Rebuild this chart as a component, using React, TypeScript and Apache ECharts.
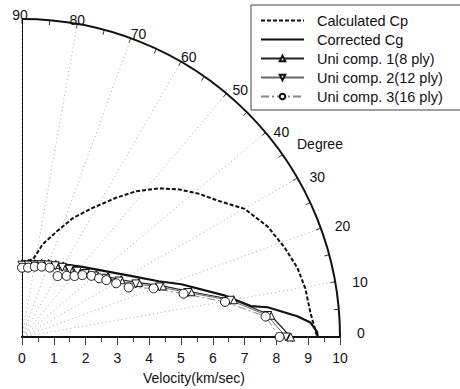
import React, { useEffect, useRef } from "react";
import * as echarts from "echarts";

const seriesNames = [
  "Calculated Cp",
  "Corrected Cg",
  "Uni comp. 1(8 ply)",
  "Uni comp. 2(12 ply)",
  "Uni comp. 3(16 ply)",
];

// Calculated Cp (angle in degree, velocity in km/sec)
const cpAngles = [90, 82, 77.4, 71.8, 66.9, 61.4, 55.9, 52, 47.4, 43.3, 39.1, 34.8, 29.9, 24.2, 18.9, 14.1, 9.7, 4.9, 2.0, 0];
const cpVel = [2.37, 2.46, 2.99, 3.49, 4.06, 4.62, 5.29, 5.81, 6.35, 6.77, 7.15, 7.51, 8.08, 8.47, 8.72, 8.93, 9.04, 9.1, 9.2, 9.28];

// Corrected Cg
const cgAngles = [90, 74.7, 49.3, 29.0, 22.2, 18.3, 11.5, 7.7, 6.9, 4.3, 2.9, 1.0, 0];
const cgVel = [2.37, 2.46, 2.91, 3.95, 4.64, 5.28, 6.52, 7.26, 7.78, 8.68, 9.08, 9.28, 9.3];

// Uni comp. 1 (8 ply)
const c1Angles = [90, 85, 80, 75, 70, 65, 60, 55, 50, 45, 40, 35, 30, 25, 20, 15, 10, 5, 0];
const c1Vel = [2.3, 2.31, 2.34, 2.4, 2.46, 2.52, 2.58, 2.64, 2.75, 2.88, 3.05, 3.3, 3.6, 4.05, 4.7, 5.5, 6.75, 7.85, 8.45];

// Uni comp. 2 (12 ply)
const c2Angles = [90, 85, 80, 75, 70, 65, 60, 55, 50, 45, 40, 35, 30, 25, 20, 15, 10, 5, 0];
const c2Vel = [2.26, 2.27, 2.3, 2.35, 2.41, 2.47, 2.53, 2.6, 2.7, 2.82, 2.98, 3.22, 3.52, 3.95, 4.6, 5.4, 6.65, 7.75, 8.3];

// Uni comp. 3 (16 ply)
const c3Angles = [90, 85, 79.7, 74.3, 68.2, 59.7, 53.9, 49.3, 45.7, 41.4, 37.3, 34, 29.7, 24.9, 20.3, 15, 9.8, 4.8, 0];
const c3Vel = [2.18, 2.19, 2.25, 2.3, 2.35, 2.22, 2.38, 2.53, 2.72, 2.91, 3.05, 3.2, 3.41, 3.7, 4.41, 5.26, 6.48, 7.69, 8.1];

const angleMin = 0;
const angleMax = 90;
const angleStep = 10;
const velMin = 0;
const velMax = 10;
const velStep = 1;

const pairs = (vel: number[], ang: number[]) => vel.map((v, i) => [v, ang[i]]);

const FONT = "Liberation Sans, Arial, sans-serif";

export default function App() {
  const ref = useRef<HTMLDivElement>(null);
  useEffect(() => {
    if (!ref.current) return;
    const chart = echarts.init(ref.current, undefined, { renderer: "svg" });
    const hollow = { color: "#fff", borderColor: "#111", borderWidth: 1 };

    const cx = 22;
    const cy = 337;
    const R = 318;

    // per-label padding [top, right, bottom, left] so the angle labels sit where the reference puts them
    const labelPad: Record<number, number[]> = {
      0: [0, 0, 8, 17],
      10: [0, 0, 0, 17],
      20: [0, 0, 2, 14],
      30: [0, 0, 0, 12],
      40: [0, 0, 0, 8],
      50: [0, 0, 4, 6],
      60: [0, 0, 8, 0],
      70: [0, 0, 6, 0],
      80: [0, 0, 6, 0],
      90: [0, 4, 6, 0],
    };
    const rich: Record<string, any> = {};
    Object.keys(labelPad).forEach((k) => {
      rich["a" + k] = {
        padding: labelPad[+k],
        lineHeight: 2,
        fontSize: 14,
        color: "#111",
        fontFamily: FONT,
      };
    });

    chart.setOption({
      animation: false,
      backgroundColor: "#fff",
      polar: { center: [cx, cy], radius: R },
      angleAxis: {
        type: "value",
        min: angleMin,
        max: angleMax,
        interval: angleStep,
        startAngle: 0,
        endAngle: 90,
        clockwise: false,
        axisLine: { lineStyle: { color: "#111", width: 2 } },
        axisTick: { show: true, inside: true, length: 5, lineStyle: { color: "#333" } },
        minorTick: { show: true, splitNumber: 2, length: 5, lineStyle: { color: "#333" } },
        axisLabel: {
          margin: 0,
          formatter: (v: number) => `{a${v}|${v}}`,
          rich,
        },
        splitLine: { show: true, lineStyle: { color: "#aaa", type: [1, 3], width: 1 } },
      },
      radiusAxis: {
        type: "value",
        min: velMin,
        max: velMax,
        interval: velStep,
        axisLine: { lineStyle: { color: "#111", width: 2 } },
        axisTick: { show: false },
        axisLabel: { show: false },
        splitLine: { show: false },
      },
      grid: { left: cx, width: R, top: cy - 40, height: 40 },
      xAxis: {
        type: "value",
        min: velMin,
        max: velMax,
        interval: velStep,
        position: "bottom",
        axisLine: { lineStyle: { color: "#111", width: 2 } },
        axisTick: { show: true, length: 8, lineStyle: { color: "#444" } },
        minorTick: { show: true, splitNumber: 2, length: 5, lineStyle: { color: "#444" } },
        axisLabel: { margin: 14, color: "#111", fontSize: 14, fontFamily: FONT },
        splitLine: { show: false },
      },
      yAxis: { type: "value", show: false, min: 0, max: 1 },
      legend: {
        data: [
          { name: seriesNames[0], itemStyle: { opacity: 0 } },
          { name: seriesNames[1], itemStyle: { opacity: 0 } },
          { name: seriesNames[2] },
          { name: seriesNames[3] },
          { name: seriesNames[4] },
        ],
        orient: "vertical",
        left: 251,
        top: 5,
        padding: [8, 20, 6, 9],
        itemGap: 4,
        itemWidth: 43,
        itemHeight: 7,
        borderColor: "#444",
        borderWidth: 1,
        textStyle: {
          fontSize: 14.5,
          lineHeight: 15,
          color: "#111",
          fontFamily: FONT,
          padding: [0, 0, 0, 8],
        },
      },
      graphic: [
        {
          type: "text",
          left: 297,
          top: 137,
          style: { text: "Degree", fontSize: 14, fill: "#111", fontFamily: FONT },
        },
        {
          type: "text",
          left: 143,
          top: 371,
          style: { text: "Velocity(km/sec)", fontSize: 14, fill: "#111", fontFamily: FONT },
        },
      ],
      series: [
        {
          name: "frame",
          type: "line",
          coordinateSystem: "polar",
          data: [[velMin, angleMax], [velMax, angleMax]],
          symbol: "none",
          silent: true,
          lineStyle: { color: "#111", width: 2 },
        },
        {
          name: seriesNames[0],
          type: "line",
          coordinateSystem: "polar",
          data: pairs(cpVel, cpAngles),
          symbol: "none",
          color: "#111",
          lineStyle: { color: "#111", width: 2, type: [4, 2] },
        },
        {
          name: seriesNames[1],
          type: "line",
          coordinateSystem: "polar",
          data: pairs(cgVel, cgAngles),
          symbol: "none",
          color: "#111",
          lineStyle: { color: "#111", width: 2.2 },
        },
        {
          name: seriesNames[2],
          type: "line",
          coordinateSystem: "polar",
          data: pairs(c1Vel, c1Angles),
          symbol: "triangle",
          symbolSize: 8,
          color: "#111",
          itemStyle: hollow,
          lineStyle: { color: "#222", width: 1.2 },
        },
        {
          name: seriesNames[3],
          type: "line",
          coordinateSystem: "polar",
          data: pairs(c2Vel, c2Angles),
          symbol: "triangle",
          symbolRotate: 180,
          symbolSize: 8,
          color: "#555",
          itemStyle: hollow,
          lineStyle: { color: "#666", width: 1 },
        },
        {
          name: seriesNames[4],
          type: "line",
          coordinateSystem: "polar",
          data: pairs(c3Vel, c3Angles),
          symbol: "circle",
          symbolSize: 9,
          color: "#777",
          itemStyle: hollow,
          lineStyle: { color: "#888", width: 1, type: [8, 3, 2, 3] },
        },
      ],
    });
    return () => chart.dispose();
  }, []);
  return (
    <div
      ref={ref}
      style={{ position: "fixed", left: 0, top: 0, width: 460, height: 389, background: "#fff" }}
    />
  );
}
